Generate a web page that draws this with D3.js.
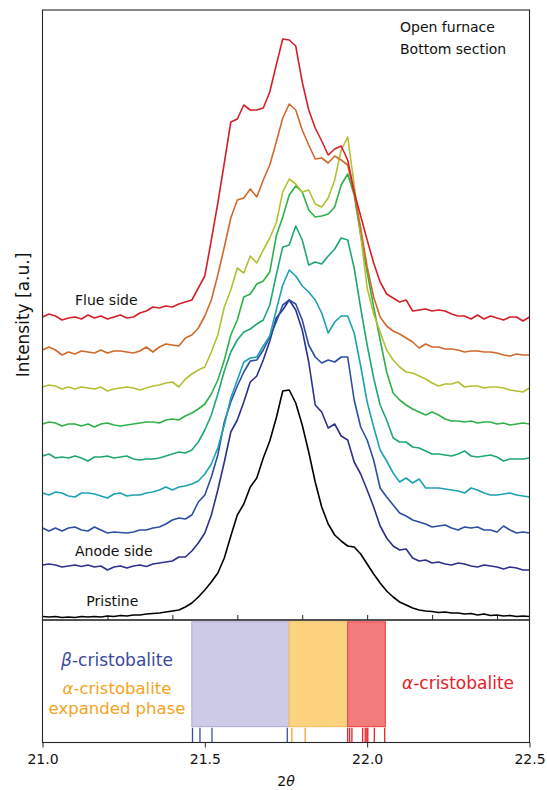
<!DOCTYPE html>
<html>
<head>
<meta charset="utf-8">
<script src="https://cdn.jsdelivr.net/npm/d3@7"></script>
<style>
  body { margin: 0; background: #fff; }
  svg { display: block; }
  text { font-family: "DejaVu Sans", "Liberation Sans", sans-serif; }
</style>
</head>
<body>
<svg id="chart" width="547" height="790"></svg>
<script>
// Diffraction angle grid (2θ, degrees)
const twoTheta = [
  21.00,21.02,21.04,21.06,21.08,21.10,21.12,21.14,21.16,21.18,21.20,21.22,21.24,21.26,21.28,21.30,21.32,21.34,21.36,21.38,21.40,
  21.42,21.44,21.46,21.48,21.50,21.52,21.54,21.56,21.58,21.60,21.62,21.64,21.66,21.68,21.70,21.72,21.74,21.76,21.78,21.80,
  21.82,21.84,21.86,21.88,21.90,21.92,21.94,21.96,21.98,
  22.00,22.02,22.04,22.06,22.08,22.10,22.12,22.14,22.16,22.18,22.20,22.22,22.24,22.26,22.28,22.30,22.32,22.34,22.36,22.38,22.40,
  22.42,22.44,22.46,22.48,22.50
];

// Stacked intensity profiles (a.u., vertical offsets included), from pristine up to flue side
const pristine = [
  3.5,3,3.5,2.5,3,2.5,3.5,3,3.5,3,4,3.5,4.5,4,5,5,6,6.5,7,8,9,
  10,13,17,23,30,38,47,62,84,105,116,133,142,162,179,202,229,230,217,195,168,138,113,96,85,79,74,73,66,
  56,46,37,29,23,18,15,12,10,9,8.5,7.5,8,7,7,6,6.5,5,6,4.5,5,4,4.5,3.5,4,3.5
];
const anodeSide = [
  55,56,55,53,54,55,53.5,55,53,54,50,53,54,52,54,55,53.5,56,57,58,59,
  63,63,69,77,87,105,130,158,188,200,218,238,244,260,279,302,310,320,310,290,258,215,208,192,196,184,180,158,146,
  130,113,94,82,74,70,71,62,59,60,57,58,56,55,57,56,54,53,55,54,53,51,53,52,50,50
];
const layer3 = [
  92,89,92,89,92,93,90,89,93,90,87,88,87.5,87,88,90,90,92,93,96,100,
  102,101,105,118,125,143,165,198,218,234,248,259,260,270,283,298,315,320,316,300,275,263,257,260,258,263,263,220,193,
  180,160,132,123,115,107,104,100,98,96,93,94,95,92,90,93,92,93,90,90,88,94,90,87,88,87
];
const layer4 = [
  127,125,128,127,124,123,127,127,126,124,122,126,127,124,125,125,127,128,130,133,130,
  133,134,136,139,146,156,172,195,222,240,258,262,263,274,284,310,335,350,344,334,328,320,307,287,298,304,304,287,254,
  218,193,170,159,147,138,142,137,141,132,132,132,131,130,129,127,132,130,127,125,125,126,127,125,124,123
];
const layer5 = [
  164,166,162,163,162,164,162,159,163,163,164,162,163,164,161,160,161,161,162,164,166,
  168,167,170,178,190,205,226,249,268,280,288,291,296,300,315,345,373,375,394,380,355,358,356,364,371,382,380,352,312,
  275,242,215,200,182,178,178,173,172,169,166,166,165,164,166,169,164,163,164,165,163,159,161,161,161,162
];
const layer6 = [
  196,198,197,194,196,196,194,196,193,196,197,195,194,195,196,197,198,198,197,200,201,
  200,204,207,211,216,226,240,260,285,300,323,326,336,339,348,384,403,425,434,428,410,403,404,406,413,435,446,425,385,
  348,313,280,248,227,220,215,211,208,205,208,205,201,199,199,198,199,197,198,198,196,197,195,196,197,196
];
const layer7 = [
  233,235,234,231,233,231,233,232,231,233,229,231,232,233,232,230,232,234,235,237,238,
  233,241,246,250,253,268,285,313,330,352,347,364,357,370,382,397,428,441,436,428,430,416,413,422,440,470,483,435,385,
  332,306,288,270,260,253,248,247,244,241,237,234,236,236,238,233,234,234,232,233,233,232,230,229,228,232
];
const layer8 = [
  270,273,270,265,268,266,269,268,267,270,267,269,269,268,267,269,273,268,273,276,275,
  274,282,285,292,304,320,345,373,402,420,422,431,423,440,455,478,502,516,510,490,475,461,462,457,464,460,455,427,392,
  353,323,303,294,289,286,282,278,272,276,273,273,271,271,270,268,269,269,268,268,267,265,264,266,265,265
];
const flueSide = [
  303,306,304,300,302,303,301,305,302,304,301,303,305,302,303,307,309,313,312,314,313,
  316,318,320,332,344,380,417,457,498,501,515,510,510,512,528,555,581,580,574,538,510,492,479,465,471,474,460,428,404,
  380,357,338,326,322,318,320,309,310,311,309,310,309,306,304,304,301,305,301,304,302,300,303,303,299,303
];
const profiles = [pristine, anodeSide, layer3, layer4, layer5, layer6, layer7, layer8, flueSide];
const profileColors = ["#000000", "#2e2f8f", "#2c4ea3", "#1ca2b2", "#1ea870", "#2fb14a", "#b4bf34", "#cf6a2a", "#d62029"];

// Reference reflection positions for the cristobalite phases (2θ)
const betaReflections = [21.462, 21.485, 21.522, 21.754];
const expandedReflections = [21.768, 21.809];
const alphaReflections = [21.940, 21.946, 21.953, 21.986, 21.994, 21.999, 22.002, 22.022, 22.054];

// Peak-position ranges of each phase
const bandStart = [21.46, 21.76, 21.94];
const bandEnd = [21.76, 21.94, 22.056];
const bandFill = ["#cdcbe6", "#fdd380", "#f27c7c"];
const bandStroke = ["#b4b2dc", "#f8c060", "#ec4d4f"];

const bottomTicks = [21.0, 21.5, 22.0, 22.5];
const topTicks = [21.2, 21.4, 21.6, 21.8, 22.0, 22.2, 22.4];

const svg = d3.select("#chart");
const plotL = 42.5, plotR = 529.5, plotT = 10, plotMid = 620, plotB = 742.5;

const x = d3.scaleLinear().domain([21.0, 22.5]).range([plotL, plotR]);
const y = d3.scaleLinear().domain([0, 610]).range([plotMid, plotT]);
const yb = d3.scaleLinear().domain([0, 1]).range([plotB, plotMid]);

svg.append("defs").append("clipPath").attr("id", "clipTop")
  .append("rect").attr("x", plotL).attr("y", plotT).attr("width", plotR - plotL).attr("height", plotMid - plotT);

// Diffraction profiles
const line = d3.line().x((d, i) => x(twoTheta[i])).y(d => y(d));
const gTop = svg.append("g").attr("clip-path", "url(#clipTop)");
profiles.forEach((p, k) => {
  gTop.append("path").datum(p)
    .attr("d", line)
    .attr("fill", "none")
    .attr("stroke", profileColors[k])
    .attr("stroke-width", 1.6)
    .attr("stroke-linejoin", "round");
});

// Inward ticks on the profile panel
const topAxis = svg.append("g").attr("transform", `translate(0,${plotMid})`)
  .call(d3.axisTop(x).tickValues(topTicks).tickSize(5).tickFormat(""));
topAxis.select(".domain").remove();
topAxis.selectAll("line").attr("stroke", "#262626").attr("stroke-width", 1);

// Annotation texts in the profile panel
svg.append("text").attr("x", 400).attr("y", 32).attr("font-size", 14).attr("fill", "#111").text("Open furnace");
svg.append("text").attr("x", 400).attr("y", 54).attr("font-size", 14).attr("fill", "#111").text("Bottom section");
svg.append("text").attr("x", x(21.1)).attr("y", 305).attr("font-size", 14).attr("fill", "#111").text("Flue side");
svg.append("text").attr("x", x(21.1)).attr("y", 556).attr("font-size", 14).attr("fill", "#111").text("Anode side");
svg.append("text").attr("x", x(21.135)).attr("y", 606).attr("font-size", 14).attr("fill", "#111").text("Pristine");

// Phase bands
const bands = svg.append("g");
bandStart.forEach((s, k) => {
  bands.append("rect")
    .attr("x", x(s)).attr("y", yb(0.985))
    .attr("width", x(bandEnd[k]) - x(s)).attr("height", yb(0.13) - yb(0.985))
    .attr("fill", bandFill[k]).attr("stroke", bandStroke[k]).attr("stroke-width", 1.2);
});

// Reflection markers
const refl = svg.append("g");
[[betaReflections, "#3c4da6"], [expandedReflections, "#f5a623"], [alphaReflections, "#e8232b"]].forEach(([arr, c]) => {
  refl.selectAll(null).data(arr).enter().append("line")
    .attr("x1", d => x(d)).attr("x2", d => x(d))
    .attr("y1", yb(0)).attr("y2", yb(0.12))
    .attr("stroke", c).attr("stroke-width", 1.3);
});

// Phase labels
const beta = svg.append("text").attr("x", 117).attr("y", 666).attr("font-size", 17)
  .attr("text-anchor", "middle").attr("fill", "#3a4a9e");
beta.append("tspan").attr("font-style", "italic").text("β");
beta.append("tspan").text("-cristobalite");

const alphaExp = svg.append("text").attr("x", 117).attr("y", 694).attr("font-size", 16.5)
  .attr("text-anchor", "middle").attr("fill", "#f5a31c");
alphaExp.append("tspan").attr("font-style", "italic").text("α");
alphaExp.append("tspan").text("-cristobalite");
svg.append("text").attr("x", 117).attr("y", 714).attr("font-size", 16.5)
  .attr("text-anchor", "middle").attr("fill", "#f5a31c").text("expanded phase");

const alpha = svg.append("text").attr("x", 458).attr("y", 689).attr("font-size", 17)
  .attr("text-anchor", "middle").attr("fill", "#e8202a");
alpha.append("tspan").attr("font-style", "italic").text("α");
alpha.append("tspan").text("-cristobalite");

// Bottom axis
const bAxis = svg.append("g").attr("transform", `translate(0,${plotB})`)
  .call(d3.axisBottom(x).tickValues(bottomTicks).tickSize(5).tickPadding(7).tickFormat(d3.format(".1f")));
bAxis.select(".domain").remove();
bAxis.selectAll("line").attr("stroke", "#262626");
bAxis.selectAll("text").attr("font-size", 14).attr("fill", "#111")
  .attr("font-family", "DejaVu Sans, sans-serif");

// Axis titles
const xt = svg.append("text").attr("x", (plotL + plotR) / 2).attr("y", 786).attr("font-size", 14)
  .attr("text-anchor", "middle").attr("fill", "#111");
xt.append("tspan").text("2");
xt.append("tspan").attr("font-style", "italic").text("θ");

svg.append("text").attr("transform", `translate(29,${(plotT + plotMid) / 2}) rotate(-90)`)
  .attr("font-size", 17).attr("text-anchor", "middle").attr("fill", "#111").text("Intensity [a.u.]");

// Panel frames
svg.append("rect").attr("x", plotL).attr("y", plotT).attr("width", plotR - plotL).attr("height", plotMid - plotT)
  .attr("fill", "none").attr("stroke", "#262626").attr("stroke-width", 1.1);
svg.append("rect").attr("x", plotL).attr("y", plotMid).attr("width", plotR - plotL).attr("height", plotB - plotMid)
  .attr("fill", "none").attr("stroke", "#262626").attr("stroke-width", 1.1);
</script>
</body>
</html>
